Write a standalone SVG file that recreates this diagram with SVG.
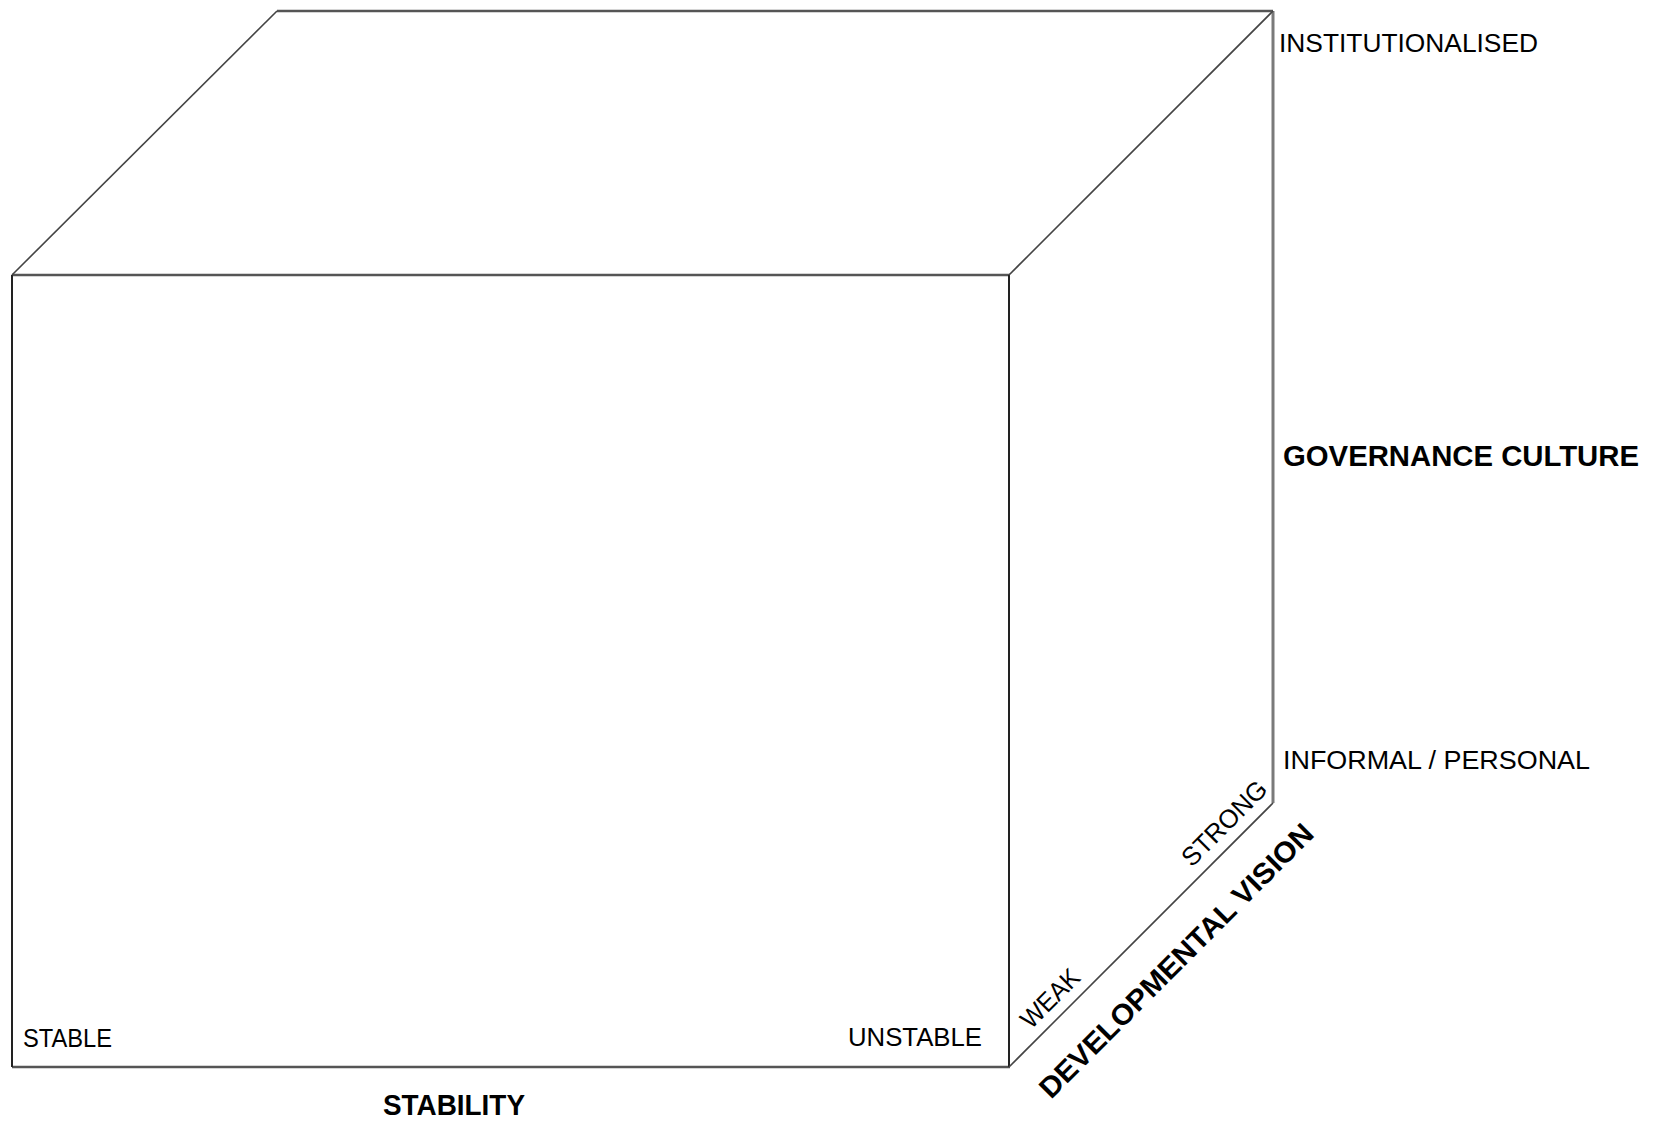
<svg xmlns="http://www.w3.org/2000/svg" width="1657" height="1121" viewBox="0 0 1657 1121">
  <style>
    .lbl { font-family: "Liberation Sans", Arial, sans-serif; font-size: 26px; fill: #000; }
    .ttl { font-family: "Liberation Sans", Arial, sans-serif; font-size: 29px; font-weight: bold; fill: #000; }
    .edge-dark { stroke: #222; stroke-width: 2; fill: none; }
    .edge-grey { stroke: #555; stroke-width: 2.5; fill: none; }
    .edge-light { stroke: #7a7a7a; stroke-width: 3; fill: none; }
    .diag { stroke: #444; stroke-width: 1.6; fill: none; }
  </style>
  <rect width="1657" height="1121" fill="#fff"/>
  <g id="cube">
    <line class="edge-grey" x1="12" y1="275" x2="1010" y2="275"/>
    <line class="edge-grey" x1="12" y1="1067" x2="1010" y2="1067"/>
    <line class="edge-dark" x1="12" y1="275" x2="12" y2="1067"/>
    <line class="edge-dark" x1="1009" y1="275" x2="1009" y2="1067"/>
    <line class="edge-grey" x1="277" y1="11" x2="1273" y2="11"/>
    <line class="edge-light" x1="1273" y1="11" x2="1273" y2="803"/>
    <line class="diag" x1="12" y1="275" x2="277" y2="11"/>
    <line class="diag" x1="1009" y1="275" x2="1273" y2="11"/>
    <line class="diag" x1="1009" y1="1067" x2="1273" y2="803"/>
  </g>
  <g id="labels">
    <text class="lbl" x="1279" y="52" textLength="259" lengthAdjust="spacingAndGlyphs">INSTITUTIONALISED</text>
    <text class="ttl" x="1283" y="466" textLength="356" lengthAdjust="spacingAndGlyphs">GOVERNANCE CULTURE</text>
    <text class="lbl" x="1283" y="769" textLength="307" lengthAdjust="spacingAndGlyphs">INFORMAL / PERSONAL</text>
    <text class="lbl" x="23" y="1047" textLength="89" lengthAdjust="spacingAndGlyphs">STABLE</text>
    <text class="lbl" x="848" y="1046" textLength="134" lengthAdjust="spacingAndGlyphs">UNSTABLE</text>
    <text class="ttl" x="383" y="1115" textLength="142" lengthAdjust="spacingAndGlyphs">STABILITY</text>
    <text class="lbl" x="1031" y="1030" transform="rotate(-45 1031 1030)" textLength="72" lengthAdjust="spacingAndGlyphs">WEAK</text>
    <text class="lbl" x="1192" y="868" transform="rotate(-45 1192 868)" textLength="109" lengthAdjust="spacingAndGlyphs">STRONG</text>
    <text class="ttl" x="1051" y="1100" transform="rotate(-45 1051 1100)" textLength="374" lengthAdjust="spacingAndGlyphs">DEVELOPMENTAL VISION</text>
  </g>
</svg>
